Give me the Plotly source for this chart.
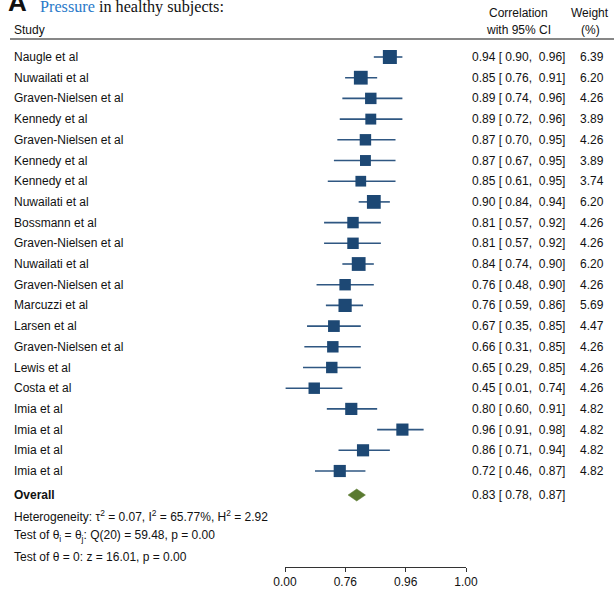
import numpy as np
import plotly.graph_objects as go

# ---- study-level data (correlations with 95% CI, random-effects weights) ----
studies = [
    "Naugle et al", "Nuwailati et al", "Graven-Nielsen et al", "Kennedy et al",
    "Graven-Nielsen et al", "Kennedy et al", "Kennedy et al", "Nuwailati et al",
    "Bossmann et al", "Graven-Nielsen et al", "Nuwailati et al",
    "Graven-Nielsen et al", "Marcuzzi et al", "Larsen et al",
    "Graven-Nielsen et al", "Lewis et al", "Costa et al", "Imia et al",
    "Imia et al", "Imia et al", "Imia et al",
]
corr = [0.94, 0.85, 0.89, 0.89, 0.87, 0.87, 0.85, 0.90, 0.81, 0.81, 0.84,
        0.76, 0.76, 0.67, 0.66, 0.65, 0.45, 0.80, 0.96, 0.86, 0.72]
ci_low = [0.90, 0.76, 0.74, 0.72, 0.70, 0.67, 0.61, 0.84, 0.57, 0.57, 0.74,
          0.48, 0.59, 0.35, 0.31, 0.29, 0.01, 0.60, 0.91, 0.71, 0.46]
ci_high = [0.96, 0.91, 0.96, 0.96, 0.95, 0.95, 0.95, 0.94, 0.92, 0.92, 0.90,
           0.90, 0.86, 0.85, 0.85, 0.85, 0.74, 0.91, 0.98, 0.94, 0.87]
weights = [6.39, 6.20, 4.26, 3.89, 4.26, 3.89, 3.74, 6.20, 4.26, 4.26, 6.20,
           4.26, 5.69, 4.47, 4.26, 4.26, 4.26, 4.82, 4.82, 4.82, 4.82]

overall = {"r": 0.83, "lo": 0.78, "hi": 0.87}
footer_lines = [
    "Heterogeneity: \u03c4<sup>2</sup> = 0.07, I<sup>2</sup> = 65.77%, H<sup>2</sup> = 2.92",
    "Test of \u03b8<sub>i</sub> = \u03b8<sub>j</sub>: Q(20) = 59.48, p = 0.00",
    "Test of \u03b8 = 0: z = 16.01, p = 0.00",
]

# x axis lives on the Fisher-z scale; labels show the back-transformed r
tick_z = [0, 1, 2, 3]
tick_labels = ["0.00", "0.76", "0.96", "1.00"]

W, H = 614, 592
FONT = "Liberation Sans, Arial, Helvetica, sans-serif"
BOX = "#1d4874"
LINE = "#2f5782"
DIAMOND = "#5a7a30"

# row geometry (rows counted downward from the first study)
ROW0_PX, ROW_PX = 57, 20.7
AXIS_PX = 567


def row_of(px):
    return (px - ROW0_PX) / ROW_PX


def py(px):
    return 1 - px / H


rows = list(range(len(studies)))
z = np.arctanh(corr)
z_lo = np.arctanh(ci_low)
z_hi = np.arctanh(ci_high)
box_size = 5.54 * np.sqrt(weights)

fig = go.Figure()

fig.add_trace(go.Scatter(
    x=z, y=rows, mode="markers",
    marker=dict(symbol="square", size=box_size, color=BOX, opacity=1,
                line=dict(width=0)),
    error_x=dict(type="data", symmetric=False, array=z_hi - z,
                 arrayminus=z - z_lo, color=LINE, thickness=1.6, width=0),
    hoverinfo="skip", showlegend=False,
))

# overall diamond
oy = row_of(495)
half = 6 / ROW_PX
oz = np.arctanh([overall["lo"], overall["r"], overall["hi"]])
fig.add_trace(go.Scatter(
    x=[oz[0], oz[1], oz[2], oz[1], oz[0]],
    y=[oy, oy - half, oy, oy + half, oy],
    mode="lines", fill="toself", fillcolor=DIAMOND,
    line=dict(color=DIAMOND, width=0.5),
    hoverinfo="skip", showlegend=False,
))

ann = []
txt = dict(family=FONT, size=12, color="#111111")
nb = "\u00a0"


def ci_text(r, lo, hi):
    return f"{r:.2f} [{nb}{lo:.2f},{nb}{nb}{hi:.2f}]"


for i, name in enumerate(studies):
    ann.append(dict(x=12 / W, y=i, xref="paper", yref="y", text=name,
                    xanchor="left", yanchor="middle", showarrow=False, font=txt))
    ann.append(dict(x=470 / W, y=i, xref="paper", yref="y",
                    text=ci_text(corr[i], ci_low[i], ci_high[i]),
                    xanchor="left", yanchor="middle", showarrow=False, font=txt))
    ann.append(dict(x=606 / W, y=i, xref="paper", yref="y", text=f"{weights[i]:.2f}",
                    xanchor="right", yanchor="middle", showarrow=False, font=txt))

ann.append(dict(x=12 / W, y=oy, xref="paper", yref="y", text="<b>Overall</b>",
                xanchor="left", yanchor="middle", showarrow=False, font=txt))
ann.append(dict(x=470 / W, y=oy, xref="paper", yref="y",
                text=ci_text(overall["r"], overall["lo"], overall["hi"]),
                xanchor="left", yanchor="middle", showarrow=False, font=txt))
for k, line in enumerate(footer_lines):
    ann.append(dict(x=12 / W, y=row_of([516, 536, 557][k]), xref="paper", yref="y",
                    text=line, xanchor="left", yanchor="middle", showarrow=False,
                    font=txt))

# column headers
hdr = [("Study", 12, 30, "left"), ("Correlation", 518, 13, "center"),
       ("with 95% CI", 518, 30, "center"), ("Weight", 590, 13, "center"),
       ("(%)", 590, 30, "center")]
for text, x, y, anchor in hdr:
    ann.append(dict(x=x / W, y=py(y), xref="paper", yref="paper", text=text,
                    xanchor=anchor, yanchor="middle", showarrow=False, font=txt))

# panel title
ann.append(dict(x=6 / W, y=py(19.5), xref="paper", yref="paper", text="<b>A</b>",
                xanchor="left", yanchor="bottom", showarrow=False,
                font=dict(family=FONT, size=26, color="#111111")))
ann.append(dict(x=38 / W, y=py(17.5), xref="paper", yref="paper",
                text="<span style='color:#2a7ac9'>Pressure</span> in healthy subjects:",
                xanchor="left", yanchor="bottom", showarrow=False,
                font=dict(family="Liberation Serif, Times New Roman, serif", size=16.2,
                          color="#111111")))

fig.update_layout(
    width=W, height=H,
    margin=dict(l=0, r=0, t=0, b=0, pad=0, autoexpand=False),
    paper_bgcolor="white", plot_bgcolor="white",
    annotations=ann,
    shapes=[dict(type="line", xref="paper", yref="paper", x0=10 / W, x1=1,
                 y0=py(39), y1=py(39), line=dict(color="#111111", width=1.2))],
    xaxis=dict(domain=[285 / W, 466 / W], range=[0, 3], tickvals=tick_z,
               ticktext=tick_labels, ticks="outside", ticklen=4, tickwidth=1,
               tickcolor="#333333", showline=True, linecolor="#333333",
               linewidth=1, showgrid=False, zeroline=False, fixedrange=True,
               automargin=False,
               tickfont=dict(family=FONT, size=12, color="#111111")),
    yaxis=dict(domain=[(H - AXIS_PX) / H, 1],
               range=[row_of(AXIS_PX), row_of(0)], autorange=False,
               automargin=False,
               visible=False, showgrid=False, zeroline=False, fixedrange=True),
)

fig.write_html("out.html")
